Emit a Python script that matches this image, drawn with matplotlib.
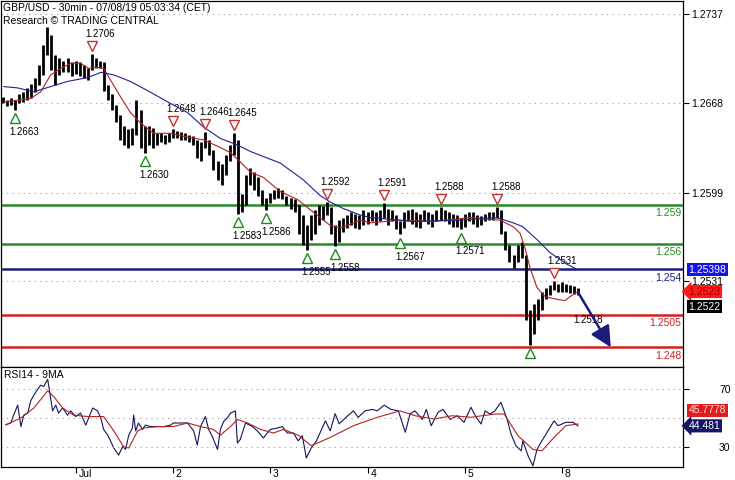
"""
GBP/USD 30min chart with support/resistance levels and RSI panel
"""
import numpy as np
import matplotlib
matplotlib.use('Agg')
import matplotlib.pyplot as plt
import matplotlib.transforms as mtransforms

plt.rcParams['font.family'] = ['Liberation Sans', 'DejaVu Sans']

# Hourly bars, hours counted from Jul 1 00:00 (weekend removed)
bar_hours = np.arange(-18, 125)
bar_high = [
    1.2673, 1.2671, 1.2672, 1.2671, 1.2675, 1.2677, 1.2680, 1.2683, 1.2688, 1.2698, 1.2713, 1.2727,
    1.2721, 1.2705, 1.2703, 1.2701, 1.2703, 1.2700, 1.2701, 1.2700, 1.2698, 1.2695, 1.2706, 1.2703,
    1.2701, 1.2700, 1.2682, 1.2675, 1.2667, 1.2659, 1.2651, 1.2648, 1.2649, 1.2671, 1.2663, 1.2651,
    1.2651, 1.2649, 1.2645, 1.2645, 1.2644, 1.2645, 1.2648, 1.2647, 1.2646, 1.2645, 1.2644, 1.2643,
    1.2640, 1.2638, 1.2646, 1.2640, 1.2632, 1.2624, 1.2621, 1.2628, 1.2636, 1.2645, 1.2640, 1.2598,
    1.2613, 1.2618, 1.2615, 1.2611, 1.2601, 1.2595, 1.2599, 1.2601, 1.2603, 1.2601, 1.2597, 1.2595,
    1.2594, 1.2590, 1.2582, 1.2574, 1.2582, 1.2586, 1.2590, 1.2589, 1.2592, 1.2588, 1.2574, 1.2578,
    1.2580, 1.2582, 1.2584, 1.2583, 1.2582, 1.2586, 1.2584, 1.2586, 1.2584, 1.2586, 1.2591, 1.2587,
    1.2586, 1.2582, 1.2577, 1.2584, 1.2586, 1.2587, 1.2584, 1.2583, 1.2586, 1.2584, 1.2583, 1.2586,
    1.2588, 1.2586, 1.2584, 1.2583, 1.2582, 1.2580, 1.2583, 1.2584, 1.2584, 1.2582, 1.2581, 1.2583,
    1.2584, 1.2584, 1.2588, 1.2586, 1.2570, 1.2559, 1.2551, 1.2559, 1.2561, 1.2551, 1.2509, 1.2513,
    1.2517, 1.2523, 1.2526, 1.2528, 1.2531, 1.2529, 1.2530, 1.2529, 1.2528, 1.2527, 1.2526]
bar_low = [
    1.2668, 1.2666, 1.2667, 1.2663, 1.2668, 1.2669, 1.2671, 1.2672, 1.2677, 1.2682, 1.2690, 1.2705,
    1.2694, 1.2682, 1.2690, 1.2692, 1.2692, 1.2689, 1.2691, 1.2689, 1.2688, 1.2686, 1.2694, 1.2695,
    1.2695, 1.2678, 1.2671, 1.2663, 1.2654, 1.2640, 1.2636, 1.2634, 1.2636, 1.2644, 1.2634, 1.2630,
    1.2636, 1.2634, 1.2636, 1.2638, 1.2637, 1.2638, 1.2641, 1.2641, 1.2640, 1.2640, 1.2638, 1.2636,
    1.2626, 1.2624, 1.2634, 1.2628, 1.2617, 1.2609, 1.2605, 1.2613, 1.2624, 1.2628, 1.2583, 1.2584,
    1.2590, 1.2605, 1.2601, 1.2597, 1.2590, 1.2586, 1.2591, 1.2594, 1.2595, 1.2594, 1.2590, 1.2587,
    1.2584, 1.2567, 1.2559, 1.2555, 1.2563, 1.2567, 1.2574, 1.2578, 1.2582, 1.2567, 1.2558, 1.2561,
    1.2569, 1.2572, 1.2574, 1.2572, 1.2571, 1.2574, 1.2575, 1.2577, 1.2574, 1.2577, 1.2580, 1.2574,
    1.2577, 1.2571, 1.2567, 1.2572, 1.2577, 1.2575, 1.2573, 1.2572, 1.2577, 1.2575, 1.2573, 1.2577,
    1.2578, 1.2577, 1.2575, 1.2573, 1.2573, 1.2571, 1.2573, 1.2577, 1.2575, 1.2573, 1.2574, 1.2577,
    1.2578, 1.2578, 1.2580, 1.2567, 1.2555, 1.2546, 1.2541, 1.2546, 1.2549, 1.2501, 1.2482, 1.2490,
    1.2501, 1.2509, 1.2517, 1.2520, 1.2524, 1.2523, 1.2523, 1.2523, 1.2522, 1.2521, 1.2520]

# moving averages on price (red = fast, blue = slow)
ma_fast_hours = [-17.7, -11.1, -8.6, -6.2, -3.7, -1.2, 1.2, 3.2, 4.9, 6.9, 8.6, 11.1, 13.5, 16.0, 19.2,
                 23.4, 27.6, 31.5, 35.7, 38.2, 40.6, 43.1, 46.3, 50.5, 54.7, 57.1, 60.3, 62.8, 65.3, 70.2,
                 72.7, 80.0, 88.2, 97.3, 104.7, 107.9, 109.6, 110.8, 112.1, 113.8, 115.8, 118.7, 120.7,
                 121.9, 123.9]
ma_fast = [1.2669, 1.2672, 1.2677, 1.2690, 1.2695, 1.2699, 1.2699, 1.2695, 1.2696, 1.2695, 1.2686,
           1.2673, 1.2661, 1.2653, 1.2645, 1.2645, 1.2642, 1.2640, 1.2634, 1.2630, 1.2623, 1.2615,
           1.2611, 1.2600, 1.2594, 1.2588, 1.2580, 1.2574, 1.2572, 1.2578, 1.2576, 1.2578, 1.2577,
           1.2580, 1.2578, 1.2573, 1.2568, 1.2557, 1.2541, 1.2526, 1.2519, 1.2517, 1.2516, 1.2519,
           1.2523]
ma_slow_hours = [-17.7, -14.3, -10.3, -6.2, -2.0, 3.0, 6.2, 9.4, 13.5, 17.7, 23.4, 27.6, 31.5, 35.7,
                 39.9, 43.1, 50.5, 56.2, 60.3, 62.8, 66.0, 70.2, 72.7, 83.3, 94.8, 103.9, 107.9, 110.3,
                 113.8, 117.0, 121.2, 123.9]
ma_slow = [1.2681, 1.2680, 1.2677, 1.2681, 1.2685, 1.2688, 1.2692, 1.2690, 1.2685, 1.2678, 1.2668,
           1.2661, 1.2650, 1.2641, 1.2636, 1.2631, 1.2622, 1.2609, 1.2597, 1.2592, 1.2587, 1.2582,
           1.2580, 1.2577, 1.2578, 1.2580, 1.2576, 1.2573, 1.2563, 1.2553, 1.2544, 1.25398]

# last values shown in the scale boxes
last_slow = '1.25398'
last_fast = '1.2523'
last_price = '1.2522'
last_rsi_ma = '45.7778'
last_rsi = '44.481'

# pivot highs / lows
high_pivot_hours = [4, 24, 32, 39, 62, 76, 90, 104, 118]
high_pivot_prices = [1.2706, 1.2648, 1.2646, 1.2645, 1.2592, 1.2591, 1.2588, 1.2588, 1.2531]
low_pivot_hours = [-15, 17, 40, 47, 57, 64, 80, 95, 112]
low_pivot_prices = [1.2663, 1.2630, 1.2583, 1.2586, 1.2555, 1.2558, 1.2567, 1.2571, 1.2482]
low_pivot_labels = ['1.2663', '1.2630', '1.2583', '1.2586', '1.2555', '1.2558', '1.2567', '1.2571', '']

# support / resistance levels
levels = [1.259, 1.256, 1.254, 1.2505, 1.248]
level_labels = ['1.259', '1.256', '1.254', '1.2505', '1.248']
level_colors = ['#2b8a2b', '#2b8a2b', '#1c1c7c', '#d42020', '#d42020']

# projected path
proj_hours = [124, 132]
proj_prices = [1.2522, 1.2480]
proj_label_hour = 126.4
proj_label_price = 1.2518

price_ticks = [1.2737, 1.2668, 1.2599, 1.2531]
day_ticks = [0, 24, 48, 72, 96, 120]
day_labels = ['Jul', '2', '3', '4', '5', '8']

# RSI14 and its 9MA
rsi_hours = [-17.2, -16.0, -15.3, -14.3, -13.5, -12.8, -11.8, -11.1, -10.3, -9.4,
             -8.6, -7.9, -6.9, -6.5, -5.7, -4.9, -4.2, -3.2, -2.0, -1.2,
             0.0, 1.2, 2.5, 3.2, 4.2, 5.4, 6.2, 6.9, 7.9, 8.6,
             9.4, 10.6, 11.6, 12.3, 13.1, 14.0, 14.3, 14.8, 15.5, 16.5,
             17.2, 18.5, 20.2, 21.7, 23.4, 24.1, 25.9, 27.6, 29.1, 30.0,
             30.8, 32.0, 32.8, 33.7, 35.0, 35.7, 36.5, 37.4, 38.2, 39.4,
             39.9, 40.6, 41.9, 43.6, 44.8, 46.3, 48.0, 49.8, 51.0, 52.2,
             53.7, 54.9, 55.9, 56.9, 58.1, 59.4, 61.6, 62.8, 64.0, 65.0,
             66.7, 68.5, 69.7, 71.4, 73.2, 74.4, 76.1, 77.8, 79.6, 81.3,
             82.5, 83.7, 85.5, 86.5, 87.7, 89.4, 90.6, 92.4, 94.1, 95.8,
             97.5, 98.8, 100.0, 101.0, 102.2, 103.4, 104.9, 106.4, 107.4, 108.6,
             109.9, 110.3, 111.6, 112.8, 113.8, 115.0, 116.3, 118.0, 119.0, 120.9,
             122.7, 123.9]
rsi = [45.3, 46.5, 52, 59, 44, 52, 53.5, 62, 66, 70,
       73, 72, 77, 70, 55, 59, 53.5, 57, 52, 55,
       51, 53.5, 45, 50, 57, 55, 50, 42, 38, 34,
       29, 24, 30, 28, 38, 43, 52, 41, 46.5, 42,
       45, 44, 44, 44, 45, 46.5, 46.5, 46.5, 41, 31,
       44, 51, 42, 37, 28, 42, 47.5, 50, 53.5, 55,
       32.5, 35, 46.5, 44, 41, 36, 42, 43, 44, 39.5,
       39.5, 34, 37.6, 22, 29, 34, 48, 41, 53, 46,
       50.5, 55, 50.5, 55, 56, 55, 59, 56, 55, 40,
       53, 55, 49, 56, 44.6, 54, 56, 49, 51.6, 47,
       57.5, 50.5, 45.8, 55, 52.8, 55, 61, 49.3, 38.8, 30.6,
       27, 34, 23.5, 16.5, 28, 34, 40, 48, 44.6, 47,
       47, 44.5]
rsi_ma_hours = [-17.2, -13.5, -10.3, -6.9, -5.4, -3.2, -0.5, 3.0, 5.4, 6.9,
                9.4, 11.8, 13.1, 15.3, 16.7, 20.2, 24.1, 27.6, 30.8, 34.0,
                35.7, 38.2, 39.9, 42.4, 45.6, 48.8, 51.2, 54.9, 58.1, 62.8,
                68.5, 74.4, 80.0, 83.7, 88.4, 92.9, 97.5, 103.4, 105.7, 109.1,
                112.8, 115.0, 118.0, 120.9, 123.9]
rsi_ma = [45.3, 50, 57, 69, 65, 57, 52, 51, 51, 51,
          41, 30, 29, 41, 43, 44, 44, 46.5, 44, 42,
          38, 44, 49, 46.5, 42, 39.5, 42, 38, 30.6, 36.4,
          44.6, 50.5, 55, 51.6, 49.3, 51.6, 50.5, 52.8, 52.8, 37.6,
          28, 27, 36.4, 44.6, 45.8]

RED_MA = '#b02222'
BLUE_MA = '#22228a'

fig = plt.figure(figsize=(7.35, 4.8), dpi=100)
ax = fig.add_axes([0.002, 1 - 367 / 480, 0.9272, 366.5 / 480])
rsi_ax = fig.add_axes([0.002, 13 / 480, 0.9272, 100 / 480], sharex=ax)

# price bars and moving averages
ax.vlines(bar_hours, bar_low, bar_high, color='black', lw=2.0, zorder=3)
ax.plot(ma_fast_hours, ma_fast, color=RED_MA, lw=0.8, zorder=4)
ax.plot(ma_slow_hours, ma_slow, color=BLUE_MA, lw=0.8, zorder=4)

# horizontal levels
for lvl, lab, col in zip(levels, level_labels, level_colors):
    ax.axhline(lvl, color=col, lw=1.8, zorder=2)
    ax.annotate(lab, xy=(1, lvl), xycoords=('axes fraction', 'data'), xytext=(-1, -6),
                textcoords='offset points', ha='right', va='center', fontsize=7.5, color=col)

# pivot markers
up = mtransforms.ScaledTranslation(0, 6 / 72, fig.dpi_scale_trans)
down = mtransforms.ScaledTranslation(0, -6 / 72, fig.dpi_scale_trans)
for h, p in zip(high_pivot_hours, high_pivot_prices):
    ax.plot(h, p, marker='v', ms=7.5, mfc='white', mec='#c83030', mew=1,
            transform=ax.transData + up, zorder=6)
    ax.annotate('%.4f' % p, xy=(h, p), xytext=(6, 14.5), textcoords='offset points',
                ha='center', va='center', fontsize=7)
for h, p, lab in zip(low_pivot_hours, low_pivot_prices, low_pivot_labels):
    ax.plot(h, p, marker='^', ms=7.5, mfc='white', mec='#208a20', mew=1,
            transform=ax.transData + down, zorder=6)
    ax.annotate(lab, xy=(h, p), xytext=(7, -16), textcoords='offset points',
                ha='center', va='center', fontsize=7)

# projection arrow
ax.annotate('', xy=(proj_hours[1], proj_prices[1]), xytext=(proj_hours[0], proj_prices[0]),
            arrowprops=dict(arrowstyle='-|>,head_length=0.9,head_width=0.45', color='#1c1c7c',
                            lw=1.8, mutation_scale=14, shrinkA=0, shrinkB=0), zorder=5)
ax.annotate('%.4f' % proj_label_price, xy=(proj_label_hour, proj_label_price), xytext=(0, -16),
            textcoords='offset points', ha='center', va='center', fontsize=7)

ax.set_xlim(-18.3, 149.8)
ax.set_ylim(1.24648, 1.27474)
ax.yaxis.tick_right()
ax.set_yticks(price_ticks)
ax.set_yticklabels(['%.4f' % t for t in price_ticks])
ax.tick_params(axis='y', direction='out', length=4, width=0.8, pad=2, labelsize=7.5)
ax.tick_params(axis='x', bottom=False, labelbottom=False)
ax.grid(axis='y', linestyle=(0, (1, 4)), color='#999999', lw=0.8)

# value boxes on the price scale
box_kw = dict(xycoords=('axes fraction', 'data'), textcoords='offset points', ha='left',
              va='center', fontsize=7.5, annotation_clip=False, zorder=10)
ax.annotate(last_slow, xy=(1, ma_slow[-1]), xytext=(4, 0), color='white',
            bbox=dict(boxstyle='square,pad=0.15', fc='#1414e6', ec='none'), **box_kw)
ax.annotate(last_fast, xy=(1, ma_fast[-1]), xytext=(4, 0), color='#a00000',
            bbox=dict(boxstyle='larrow,pad=0.15', fc='#ff1a1a', ec='none'), **box_kw)
ax.annotate(last_price, xy=(1, proj_prices[0]), xytext=(4, -10), color='white',
            bbox=dict(boxstyle='square,pad=0.15', fc='black', ec='none'), **box_kw)

fig.text(3 / 735, 1 - 8 / 480, 'GBP/USD - 30min - 07/08/19 05:03:34 (CET)', fontsize=7.5, va='center')
fig.text(3 / 735, 1 - 21 / 480, 'Research \u00a9 TRADING CENTRAL', fontsize=7.5, va='center')

# RSI panel
rsi_ax.plot(rsi_hours, rsi, color='#14145a', lw=0.8)
rsi_ax.plot(rsi_ma_hours, rsi_ma, color=RED_MA, lw=0.8)
for lvl in [70, 50, 30]:
    rsi_ax.axhline(lvl, linestyle=(0, (1, 4)), color='#999999', lw=0.8)
rsi_ax.set_ylim(15.7, 85.7)
rsi_ax.yaxis.tick_right()
rsi_ax.set_yticks([70, 30])
rsi_ax.tick_params(axis='y', direction='out', length=4, width=0.8, pad=22, labelsize=7.5)
rsi_ax.set_xticks(day_ticks)
rsi_ax.set_xticklabels([])
rsi_ax.tick_params(axis='x', direction='out', length=4, width=0.8)
for h, lab in zip(day_ticks, day_labels):
    rsi_ax.annotate(lab, xy=(h, 0), xycoords=('data', 'axes fraction'), xytext=(2, -1.5),
                    textcoords='offset points', ha='left', va='top', fontsize=7.5,
                    annotation_clip=False)
rsi_ax.text(0.004, 0.92, 'RSI14 - 9MA', transform=rsi_ax.transAxes, fontsize=7.5, va='center')

rbox = dict(xycoords=('axes fraction', 'data'), textcoords='offset points', ha='left',
            va='center', fontsize=7.5, annotation_clip=False, zorder=10)
rsi_ax.annotate(last_rsi_ma, xy=(1, rsi_ma[-1]), xytext=(4, 10), color='#ffe0e0',
                bbox=dict(boxstyle='square,pad=0.15', fc='#e01c1c', ec='none'), **rbox)
rsi_ax.annotate(last_rsi, xy=(1, rsi[-1]), xytext=(4, 0), color='white',
                bbox=dict(boxstyle='larrow,pad=0.15', fc='#141464', ec='none'), **rbox)

for a in (ax, rsi_ax):
    for s in a.spines.values():
        s.set_linewidth(0.9)

fig.savefig('out.png', dpi=100)
